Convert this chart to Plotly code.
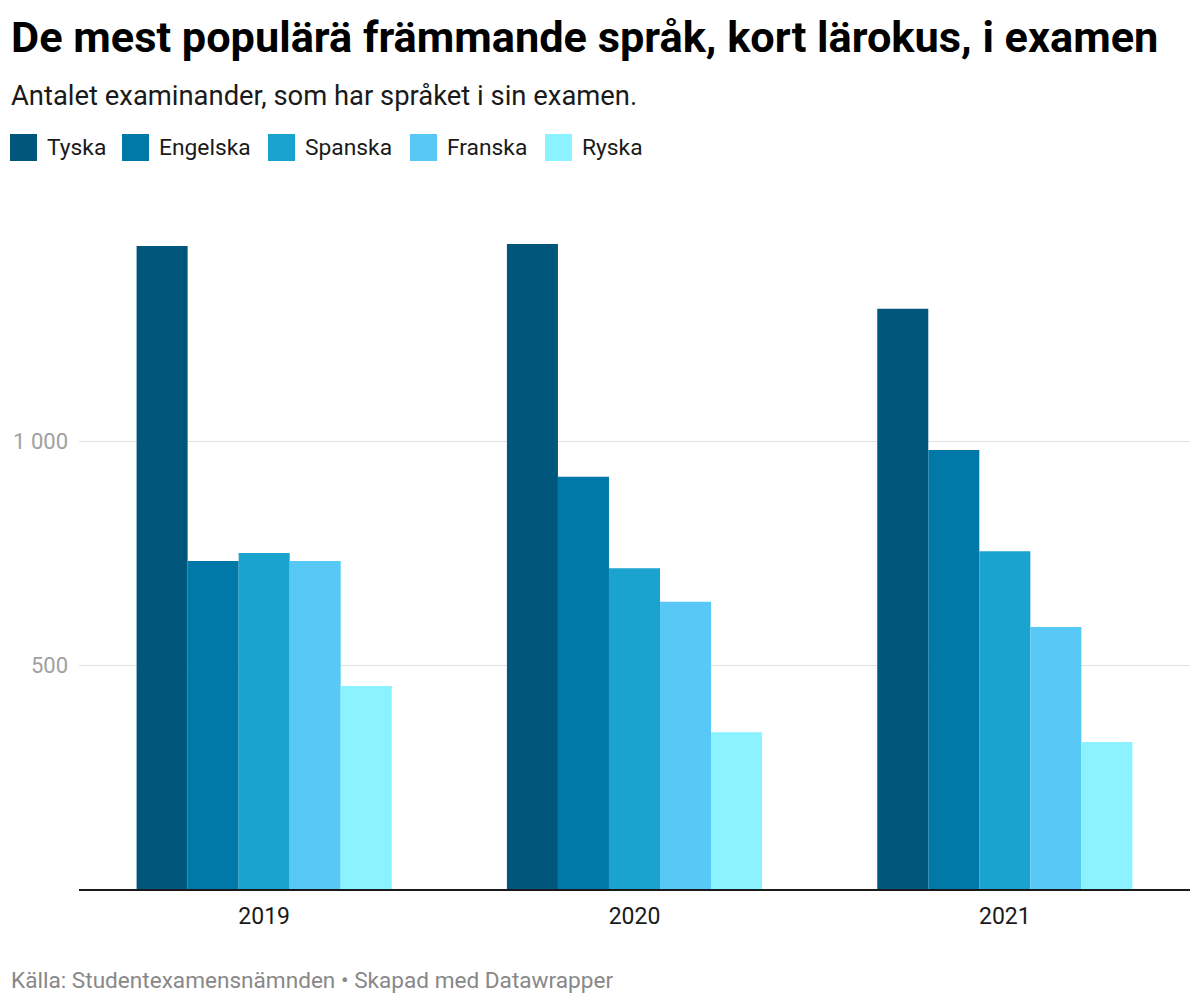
import plotly.graph_objects as go

years = ["2019", "2020", "2021"]
languages = ["Tyska", "Engelska", "Spanska", "Franska", "Ryska"]
tyska = [1435, 1440, 1295]
engelska = [732, 920, 980]
spanska = [750, 716, 754]
franska = [732, 641, 585]
ryska = [453, 350, 328]
series_values = [tyska, engelska, spanska, franska, ryska]
colors = ["#01567C", "#0079A8", "#1BA3D0", "#58C9F6", "#8AF3FF"]
y_tickvals = [500, 1000]
y_ticktext = ["500", "1 000"]

title = "De mest populärä främmande språk, kort lärokus, i examen"
subtitle = "Antalet examinander, som har språket i sin examen."
footer = "Källa: Studentexamensnämnden • Skapad med Datawrapper"

W, H = 1200, 1003
L, R, T, B = 79, 10, 200, 114
PW = W - L - R
PH = H - T - B
FONT = "Roboto"

def px(x):
    return (x - L) / PW

def py(y):
    return (H - B - y) / PH

fig = go.Figure()
for name, vals, col in zip(languages, series_values, colors):
    fig.add_trace(go.Bar(x=years, y=vals, name=name, marker=dict(color=col, line=dict(width=0)),
                         showlegend=False))

annotations = [
    dict(text="<b>" + title + "</b>", x=px(9), y=py(37), xref="paper", yref="paper",
         xanchor="left", yanchor="middle", showarrow=False,
         font=dict(family=FONT, size=43.3, color="#000000")),
    dict(text=subtitle, x=px(9), y=py(96), xref="paper", yref="paper",
         xanchor="left", yanchor="middle", showarrow=False,
         font=dict(family=FONT, size=27.4, color="#1a1a1a")),
    dict(text=footer, x=px(9), y=py(980), xref="paper", yref="paper",
         xanchor="left", yanchor="middle", showarrow=False,
         font=dict(family=FONT, size=22.6, color="#888888")),
]
shapes = []
sq_x = [10, 122, 268, 410, 545]
for i, (name, col) in enumerate(zip(languages, colors)):
    x0 = sq_x[i]
    shapes.append(dict(type="rect", xref="paper", yref="paper",
                       x0=px(x0), x1=px(x0 + 27), y0=py(161), y1=py(134),
                       fillcolor=col, line=dict(width=0)))
    annotations.append(dict(text=name, x=px(x0 + 35), y=py(147), xref="paper", yref="paper",
                            xanchor="left", yanchor="middle", showarrow=False,
                            font=dict(family=FONT, size=22.8, color="#1a1a1a")))

fig.update_layout(
    width=W, height=H,
    margin=dict(l=L, r=R, t=T, b=B, pad=0),
    paper_bgcolor="white", plot_bgcolor="white",
    barmode="group", bargap=0.311, bargroupgap=0,
    font=dict(family=FONT),
    annotations=annotations, shapes=shapes,
    xaxis=dict(showline=True, linecolor="#1a1a1a", linewidth=2, showgrid=False,
               ticks="", tickfont=dict(family=FONT, size=23, color="#1a1a1a"),
               ticklabelstandoff=5, fixedrange=True),
    yaxis=dict(range=[0, PH / 0.448], tickvals=y_tickvals, ticktext=y_ticktext,
               showgrid=True, gridcolor="#e2e2e2", gridwidth=1, zeroline=False,
               showline=False, ticks="", ticklabelstandoff=10,
               tickfont=dict(family=FONT, size=22, color="#a0a0a0"), fixedrange=True),
)

fig.write_html("out.html")
